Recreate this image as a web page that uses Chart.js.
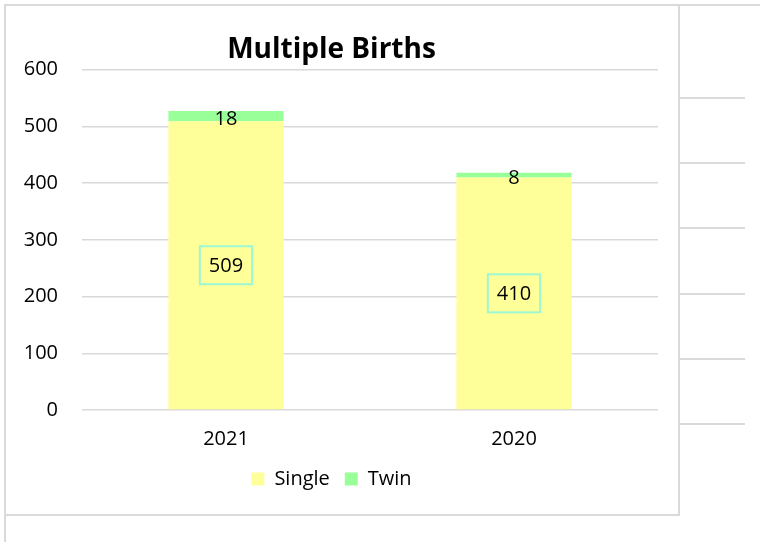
<!DOCTYPE html>
<html>
<head>
<meta charset="utf-8">
<script src="https://cdn.jsdelivr.net/npm/chart.js@4/dist/chart.umd.min.js"></script>
<style>
  body { margin: 0; background: #fff; }
  #page { position: relative; width: 760px; height: 542px; overflow: hidden; }
  #box { position: absolute; left: 5px; top: 5px; width: 674px; height: 510px; }
  .ln { position: absolute; background: #dadada; }
</style>
</head>
<body>
<div id="page">
  <div id="box"><canvas id="births"></canvas></div>
  <!-- sheet cell lines around the chart -->
  <div class="ln" style="left:5px;top:4px;width:755px;height:2px"></div>
  <div class="ln" style="left:4px;top:4px;width:2px;height:538px"></div>
  <div class="ln" style="left:678px;top:4px;width:2px;height:512px"></div>
  <div class="ln" style="left:4px;top:514px;width:676px;height:2px"></div>
  <div class="ln" style="left:679px;top:97px;width:66px;height:2px"></div>
  <div class="ln" style="left:679px;top:162px;width:66px;height:2px"></div>
  <div class="ln" style="left:679px;top:227px;width:66px;height:2px"></div>
  <div class="ln" style="left:679px;top:293px;width:66px;height:2px"></div>
  <div class="ln" style="left:679px;top:358px;width:66px;height:2px"></div>
  <div class="ln" style="left:679px;top:423px;width:66px;height:2px"></div>
</div>
<script>
const years = ['2021', '2020'];
const single = [509, 410];
const twin = [18, 8];
const yMax = 600;
const yStep = 100;

const FONT = '"Open Sans", "DejaVu Sans", sans-serif';

// value labels in the middle of each segment, Single ones get a box
const barLabels = {
    id: 'barLabels',
    afterDatasetsDraw(chart) {
        let ctx = chart.ctx;
        ctx.save();
        ctx.font = '20px ' + FONT;
        ctx.textAlign = 'center';
        ctx.textBaseline = 'middle';
        chart.data.datasets.forEach((ds, i) => {
            chart.getDatasetMeta(i).data.forEach((bar, j) => {
                let txt = String(ds.data[j]);
                let cy = (bar.y + bar.base) / 2;
                if (ds.label === 'Single') {
                    let w = ctx.measureText(txt).width + 18;
                    ctx.strokeStyle = '#9cf8d4';
                    ctx.lineWidth = 2;
                    ctx.strokeRect(bar.x - w / 2, cy - 19, w, 38);
                }
                ctx.fillStyle = '#000';
                ctx.fillText(txt, bar.x, cy + (ds.label === 'Twin' ? 3 : 1));
            });
        });
        ctx.restore();
    }
};

function draw() {
    var ctx = document.getElementById('births').getContext('2d');
    new Chart(ctx, {
        type: 'bar',
        data: {
            labels: years,
            datasets: [{
                label: 'Single',
                data: single,
                backgroundColor: '#ffff99',
                barPercentage: 0.4,
                categoryPercentage: 1
            }, {
                label: 'Twin',
                data: twin,
                backgroundColor: '#99ff99',
                barPercentage: 0.4,
                categoryPercentage: 1
            }]
        },
        options: {
            responsive: true,
            maintainAspectRatio: false,
            animation: false,
            layout: { padding: { left: 0, right: 21, top: 0, bottom: 16 } },
            scales: {
                x: {
                    stacked: true,
                    grid: { display: false, drawTicks: false },
                    border: { display: false },
                    ticks: { color: '#000', font: { family: FONT, size: 20 }, padding: 17 },
                    afterFit: s => { s.height = 44; }
                },
                y: {
                    stacked: true,
                    min: 0,
                    max: yMax,
                    grid: { color: '#d9d9d9', lineWidth: 1.5, drawTicks: false },
                    border: { display: false },
                    ticks: { stepSize: yStep, color: '#000', font: { family: FONT, size: 20 }, padding: 24 },
                    afterFit: s => { s.width = 77; }
                }
            },
            plugins: {
                title: {
                    display: true,
                    text: 'Multiple Births',
                    color: '#000',
                    font: { family: FONT, size: 28, weight: 'bold' },
                    padding: { top: 28, bottom: 3 }
                },
                legend: {
                    position: 'bottom',
                    labels: {
                        color: '#000',
                        font: { family: FONT, size: 20 },
                        boxWidth: 13,
                        boxHeight: 13,
                        padding: 15
                    }
                },
                tooltip: { enabled: false }
            }
        },
        plugins: [barLabels]
    });
}

document.fonts.load('20px "Open Sans"').then(draw, draw);
</script>
</body>
</html>
